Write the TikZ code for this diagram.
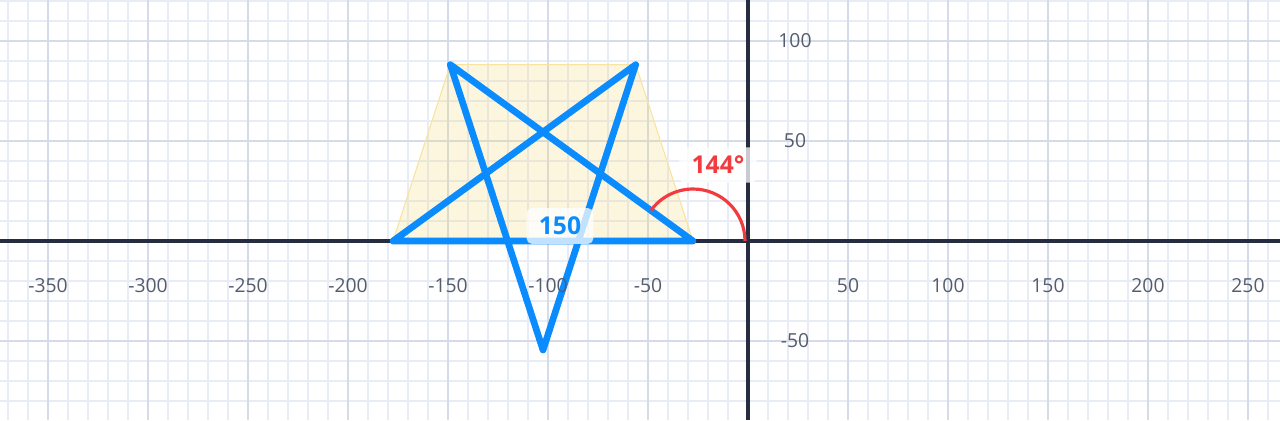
\documentclass[tikz,border=0pt]{standalone}
\usepackage{fontspec}
\setmainfont{Open Sans}

\definecolor{gridminor}{HTML}{E7ECF6}
\definecolor{gridmajor}{HTML}{D5DBE8}
\definecolor{axisdark}{HTML}{262D40}
\definecolor{ticktext}{HTML}{555C6E}
\definecolor{starblue}{HTML}{0A8CFF}
\definecolor{anglered}{HTML}{F23B3F}
\definecolor{trapfill}{HTML}{F5D76E}
\definecolor{trapline}{HTML}{F8E3A0}

\begin{document}
\begin{tikzpicture}[x=0.04cm, y=0.04cm,
        tick/.style={text=ticktext, font=\fontsize{11}{12}\selectfont},
        tag/.style={font=\bfseries\fontsize{14}{14}\selectfont, fill=white, fill opacity=0.75,
            text opacity=1, rounded corners=3pt, inner xsep=7pt, inner ysep=5pt}]
        \useasboundingbox (-374,-89.5) rectangle (266,120.5);
        \fill[white] (-374,-89.5) rectangle (266,120.5);

        \draw[gridminor, line width=0.9pt, step=10] (-374,-89.5) grid (266,120.5);
        \draw[gridmajor, line width=0.9pt, step=50] (-374,-89.5) grid (266,120.5);

        \coordinate (a) at (-177.5,0);
        \coordinate (b) at (-27.5,0);
        \coordinate (c) at (-148.85,88.17);
        \coordinate (d) at (-102.5,-54.49);
        \coordinate (e) at (-56.15,88.17);

        \filldraw[fill=trapfill, fill opacity=0.22, draw=trapline, line width=0.6pt] (a) -- (c) -- (e) -- (b) -- cycle;

        \draw[axisdark, line width=2.2pt] (-374,0) -- (266,0);
        \draw[axisdark, line width=2.2pt] (0,-89.5) -- (0,120.5);

        \draw[starblue, line width=3.8pt, line join=round, line cap=round] (a) -- (b) -- (c) -- (d) -- (e) -- cycle;
        \draw[anglered, line width=1.8pt] ([shift={(26,0)}]b) arc[start angle=0, end angle=144, radius=26];

        \foreach \v in {-350,-300,...,-50,50,100,...,250}
            \node[tick] (xt\v) at (\v,-22.5) {\v};
        \foreach \v in {100,50,-50}
            \node[tick] (yt\v) at (23.5,\v) {\v};

        \node[tag, text=anglered] (angletag) at (-15,38) {144°};
        \node[tag, text=starblue] (sidetag) at (-94,7.5) {150};
    \end{tikzpicture}
\end{document}
